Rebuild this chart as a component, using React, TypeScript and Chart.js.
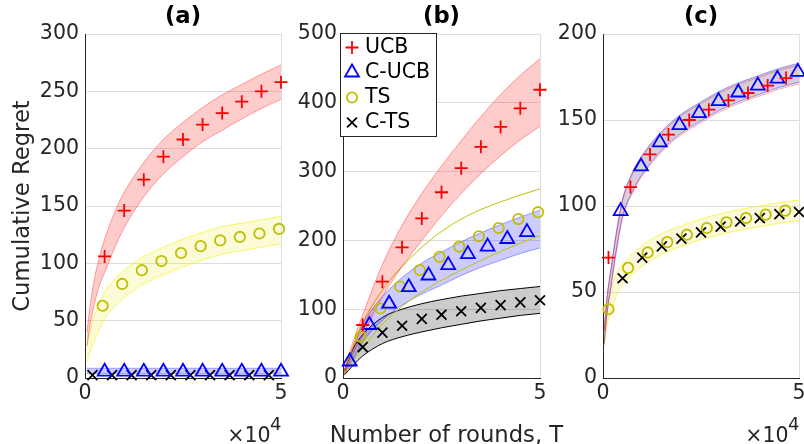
import React, { useEffect, useRef } from 'react';
import { Chart, registerables } from 'chart.js';

Chart.register(...registerables);

// ---------------- text ----------------
const PANEL_TITLES = ['(a)', '(b)', '(c)'];
const SERIES_NAMES = ['UCB', 'C-UCB', 'TS', 'C-TS'];
const X_TICK_LABELS = ['0', '5'];
const Y_LABEL = 'Cumulative Regret';
const X_LABEL = 'Number of rounds, T';
const EXP_BASE = '×10';
const EXP_POWER = '4';

// ---------------- panel (a) ----------------
const A_UCB_X = [5000, 10000, 15000, 20000, 25000, 30000, 35000, 40000, 45000, 50000];
const A_UCB_Y = [106, 146, 173, 193, 208, 221, 231, 241, 250, 258];
const A_CUCB_X = [5000, 10000, 15000, 20000, 25000, 30000, 35000, 40000, 45000, 50000];
const A_CUCB_Y = [5.5, 5.5, 5.5, 5.5, 5.5, 5.5, 5.5, 5.5, 5.5, 5.5];
const A_TS_X = [4500, 9500, 14500, 19500, 24500, 29500, 34500, 39500, 44500, 49500];
const A_TS_Y = [63, 82, 94, 102, 109, 115, 120, 123, 126, 130];
const A_CTS_X = [1900, 6900, 11900, 16900, 21900, 26900, 31900, 36900, 41900, 46900];
const A_CTS_Y = [2.5, 2.5, 2.5, 2.5, 2.5, 2.5, 2.5, 2.5, 2.5, 2.5];

const A_BAND_X = [500, 1500, 2500, 3500, 5000, 7500, 10000, 15000, 20000, 25000, 30000, 35000, 40000, 45000, 50000];
const A_UCB_HI = [40, 68, 88, 103, 121, 144, 162, 188, 208, 223, 236, 247, 256, 265, 273];
const A_UCB_LO = [28, 50, 66, 79, 92, 113, 131, 158, 178, 193, 206, 216, 226, 235, 243];
const A_TS_HI = [28, 44, 55, 64, 75, 86, 94, 106, 114, 121, 127, 132, 135, 138, 141];
const A_TS_LO = [14, 25, 33, 41, 52, 62, 70, 82, 90, 97, 103, 108, 111, 114, 117];
const A_CUCB_HI = [8.5, 8.5, 8.5, 8.5, 8.5, 8.5, 8.5, 8.5, 8.5, 8.5, 8.5, 8.5, 8.5, 8.5, 8.5];
const A_CUCB_LO = [4, 4, 4, 4, 4, 4, 4, 4, 4, 4, 4, 4, 4, 4, 4];

// ---------------- panel (b) ----------------
const B_UCB_X = [5000, 10000, 15000, 20000, 25000, 30000, 35000, 40000, 45000, 50000];
const B_UCB_Y = [77, 140, 190, 232, 270, 305, 336, 365, 392, 419];
const B_CUCB_X = [1700, 6700, 11700, 16700, 21700, 26700, 31700, 36700, 41700, 46700];
const B_CUCB_Y = [24, 77, 108, 132, 149, 164, 180, 191, 202, 212];
const B_TS_X = [4500, 9500, 14500, 19500, 24500, 29500, 34500, 39500, 44500, 49500];
const B_TS_Y = [60, 101, 133, 157, 176, 191, 206, 218, 231, 241];
const B_CTS_X = [5000, 10000, 15000, 20000, 25000, 30000, 35000, 40000, 45000, 50000];
const B_CTS_Y = [45, 66, 76, 86, 92, 97, 102, 106, 110, 113];

const B_BAND_X = [300, 2500, 5000, 10000, 15000, 20000, 25000, 30000, 35000, 40000, 45000, 50000];
const B_UCB_HI = [10, 52, 92, 165, 222, 268, 308, 345, 380, 412, 440, 464];
const B_UCB_LO = [6, 35, 62, 118, 162, 200, 236, 268, 297, 323, 346, 366];
const B_TS_HI = [10, 45, 80, 128, 162, 190, 213, 231, 245, 256, 266, 275];
const B_TS_LO = [5, 25, 44, 78, 104, 125, 142, 157, 171, 184, 196, 207];
const B_CUCB_HI = [10, 42, 78, 118, 146, 167, 183, 198, 211, 223, 234, 244];
const B_CUCB_LO = [5, 26, 52, 84, 106, 122, 135, 149, 161, 171, 181, 189];
const B_CTS_HI = [10, 42, 63, 88, 100, 108, 114, 119, 123, 127, 130, 133];
const B_CTS_LO = [4, 18, 32, 50, 60, 67, 73, 78, 83, 87, 91, 94];

// ---------------- panel (c) ----------------
const C_UCB_X = [1400, 7000, 12000, 16700, 22000, 27000, 32000, 37000, 42000, 46700];
const C_UCB_Y = [70, 111, 130, 141.5, 150, 156, 161.4, 165.7, 170, 174.4];
const C_CUCB_X = [4500, 9700, 14500, 19500, 24500, 29500, 34500, 39500, 44500, 49700];
const C_CUCB_Y = [97, 123, 137, 147, 154, 161, 166, 170, 174, 178];
const C_TS_X = [1400, 6400, 11400, 16400, 21400, 26500, 31500, 36500, 41500, 46500];
const C_TS_Y = [40, 64, 73, 79, 83.3, 87.2, 90.5, 93, 95, 97.3];
const C_CTS_X = [5000, 10000, 15000, 20000, 25000, 30000, 35000, 40000, 45000, 50000];
const C_CTS_Y = [58, 70, 76.5, 81, 84.7, 88, 91, 93, 95.3, 96.5];

const C_BAND_X = [300, 1000, 2000, 3500, 5000, 7500, 10000, 15000, 20000, 25000, 30000, 35000, 40000, 45000, 50000];
const C_CUCB_HI = [28, 46.5, 63, 86, 104, 119.5, 129.5, 143.5, 153.5, 160.5, 167, 172, 176, 180, 183];
const C_CUCB_LO = [20, 37.5, 53, 76, 94, 108.5, 118.5, 132.5, 142.5, 149.5, 156, 161, 165, 169, 172];
const C_UCB_HI = [27, 45.5, 62, 85, 103, 118.5, 128.5, 142.5, 152.5, 159.5, 166, 171, 175, 179, 182];
const C_UCB_LO = [19, 36.5, 52, 75, 93, 107.5, 117.5, 131.5, 141.5, 148.5, 155, 160, 164, 168, 171];
const C_TS_HI = [30, 42, 51, 61, 66, 72, 77, 84, 88.5, 92.5, 95.5, 98, 100, 102, 103.5];
const C_TS_LO = [19, 30, 38, 48, 54, 60, 65, 72, 76.5, 80.5, 83.5, 86, 88, 90, 91.5];

// ---------------- style ----------------
const CW = 810;
const CH = 444;
const VIEW_W = 804;
const VIEW_H = 444;
const FONT = '"DejaVu Sans", sans-serif';
const TEXT = '#262626';
const GRID = '#dedede';
const AXIS = '#262626';
const RED = '#ff0000';
const BLUE = '#0000ff';
const OLIVE = '#bfbf00';
const BLACK = '#000000';
const MARKER_LW = 1.8;

type Style = 'cross' | 'triangle' | 'circle' | 'crossRot';
const STYLE: Record<string, { style: Style; color: string; r: number }> = {
  UCB: { style: 'cross', color: RED, r: 6.5 },
  'C-UCB': { style: 'triangle', color: BLUE, r: 8 },
  TS: { style: 'circle', color: OLIVE, r: 5.2 },
  'C-TS': { style: 'crossRot', color: BLACK, r: 7 },
};

type Band = { x: number[]; hi: number[]; lo: number[]; fill: string | null; border: string };
type Series = { name: string; x: number[]; y: number[] };

function pts(x: number[], y: number[]) {
  return x.map((v, i) => ({ x: v, y: y[i] }));
}

function drawMarker(ctx: CanvasRenderingContext2D, style: Style, x: number, y: number, r: number, color: string) {
  ctx.save();
  ctx.strokeStyle = color;
  ctx.lineWidth = MARKER_LW;
  ctx.beginPath();
  if (style === 'cross') {
    ctx.moveTo(x - r, y); ctx.lineTo(x + r, y);
    ctx.moveTo(x, y - r); ctx.lineTo(x, y + r);
  } else if (style === 'crossRot') {
    const d = r * Math.SQRT1_2;
    ctx.moveTo(x - d, y - d); ctx.lineTo(x + d, y + d);
    ctx.moveTo(x + d, y - d); ctx.lineTo(x - d, y + d);
  } else if (style === 'triangle') {
    for (let k = 0; k < 3; k++) {
      const a = (k * 2 * Math.PI) / 3;
      const px = x + Math.sin(a) * r;
      const py = y - Math.cos(a) * r;
      if (k === 0) ctx.moveTo(px, py); else ctx.lineTo(px, py);
    }
    ctx.closePath();
  } else {
    ctx.arc(x, y, r, 0, Math.PI * 2);
  }
  ctx.stroke();
  ctx.restore();
}

const exponentPlugin = {
  id: 'exponentLabel',
  afterDraw(chart: any) {
    const { ctx, chartArea } = chart;
    ctx.save();
    ctx.fillStyle = TEXT;
    ctx.textAlign = 'right';
    ctx.textBaseline = 'alphabetic';
    ctx.font = `18px ${FONT}`;
    ctx.fillText(EXP_POWER, chartArea.right + 0.5, 430);
    ctx.font = `20.5px ${FONT}`;
    ctx.fillText(EXP_BASE, chartArea.right - 10.5, 442);
    ctx.restore();
  },
};

// x-axis label drawn without the scale's width limit, so it can run past the plot like the original
const xLabelPlugin = {
  id: 'wideXLabel',
  afterDraw(chart: any) {
    const { ctx, chartArea } = chart;
    ctx.save();
    ctx.fillStyle = TEXT;
    ctx.textAlign = 'center';
    ctx.textBaseline = 'alphabetic';
    ctx.font = `22.7px ${FONT}`;
    ctx.fillText(X_LABEL, (chartArea.left + chartArea.right) / 2 + 5, 441.5);
    ctx.restore();
  },
};

const legendPlugin = {
  id: 'boxLegend',
  afterDatasetsDraw(chart: any) {
    const { ctx, chartArea } = chart;
    const left = Math.round(chartArea.left) - 3;
    const top = Math.round(chartArea.top) - 1;
    const w = 96;
    const h = 103;
    ctx.save();
    ctx.fillStyle = '#ffffff';
    ctx.fillRect(left, top, w, h);
    ctx.strokeStyle = AXIS;
    ctx.lineWidth = 1;
    ctx.strokeRect(left + 0.5, top + 0.5, w, h);
    SERIES_NAMES.forEach((name, i) => {
      const s = STYLE[name];
      const cy = top + 14.5 + 25 * i;
      drawMarker(ctx, s.style, left + 12, cy, s.r, s.color);
      ctx.fillStyle = '#000000';
      ctx.font = `20.5px ${FONT}`;
      ctx.textAlign = 'left';
      ctx.textBaseline = 'middle';
      ctx.fillText(name, left + 25, cy);
    });
    ctx.restore();
  },
};

type PanelSpec = {
  title: string;
  yMax: number;
  yStep: number;
  chartLeft: number;
  chartRight: number;
  axisW: number;
  yTitle?: string;
  xTitle?: boolean;
  exponent?: boolean;
  legend?: boolean;
  bands: Band[];
  series: Series[];
};

function buildConfig(p: PanelSpec): any {
  const datasets: any[] = [];
  p.series.forEach((s) => {
    const st = STYLE[s.name];
    datasets.push({
      label: s.name,
      data: pts(s.x, s.y),
      showLine: false,
      pointStyle: st.style,
      pointRadius: st.r,
      pointHoverRadius: st.r,
      pointBorderWidth: MARKER_LW,
      pointBorderColor: st.color,
      pointBackgroundColor: 'rgba(0,0,0,0)',
      borderColor: st.color,
      backgroundColor: 'rgba(0,0,0,0)',
      fill: false,
      clip: false,
      order: 0,
    });
  });
  p.bands.forEach((b) => {
    datasets.push({
      data: pts(b.x, b.hi),
      borderColor: b.border,
      borderWidth: 1,
      pointRadius: 0,
      fill: false,
      cubicInterpolationMode: 'monotone',
      order: 10,
    });
    datasets.push({
      data: pts(b.x, b.lo),
      borderColor: b.border,
      borderWidth: 1,
      pointRadius: 0,
      backgroundColor: b.fill || 'rgba(0,0,0,0)',
      fill: b.fill ? '-1' : false,
      cubicInterpolationMode: 'monotone',
      order: 10,
    });
  });

  const tickFont = { family: FONT, size: 20.5, lineHeight: 1.2 };
  const plugins: any[] = [];
  if (p.exponent) plugins.push(exponentPlugin);
  if (p.legend) plugins.push(legendPlugin);
  if (p.xTitle) plugins.push(xLabelPlugin);

  return {
    type: 'line',
    data: { datasets },
    plugins,
    options: {
      animation: false,
      responsive: false,
      devicePixelRatio: 1,
      events: [],
      layout: { padding: { left: p.chartLeft - p.axisW, right: CW - p.chartRight, top: 0, bottom: 0 } },
      plugins: {
        legend: { display: false },
        tooltip: { enabled: false },
        title: {
          display: true,
          text: p.title,
          fullSize: false,
          color: '#000000',
          font: { family: FONT, size: 22.7, weight: 'bold', lineHeight: 1 },
          padding: { top: 6, bottom: 5.3 },
        },
      },
      scales: {
        x: {
          type: 'linear',
          min: 0,
          max: 50000,
          afterFit: (s: any) => { s.height = 66; },
          border: { display: true, color: AXIS, width: 1 },
          grid: { color: GRID, lineWidth: 1, drawTicks: false },
          ticks: {
            stepSize: 50000,
            autoSkip: false,
            maxRotation: 0,
            padding: 3.5,
            color: TEXT,
            font: tickFont,
            callback: (_v: any, i: number) => X_TICK_LABELS[i],
          },
        },
        y: {
          min: 0,
          max: p.yMax,
          afterFit: (s: any) => { s.width = p.axisW; },
          border: { display: true, color: AXIS, width: 1 },
          grid: { color: GRID, lineWidth: 1, drawTicks: false },
          ticks: { stepSize: p.yStep, padding: 6, color: TEXT, font: tickFont },
          title: {
            display: !!p.yTitle,
            text: p.yTitle || '',
            color: TEXT,
            font: { family: FONT, size: 22.7, lineHeight: 1 },
            padding: { top: 12, bottom: 0 },
          },
        },
      },
    },
  };
}

const PANELS: PanelSpec[] = [
  {
    title: PANEL_TITLES[0], yMax: 300, yStep: 50, chartLeft: 85, chartRight: 281, axisW: 85,
    yTitle: Y_LABEL, exponent: true,
    bands: [
      { x: A_BAND_X, hi: A_UCB_HI, lo: A_UCB_LO, fill: 'rgba(255,0,0,0.2)', border: 'rgba(255,0,0,0.35)' },
      { x: A_BAND_X, hi: A_TS_HI, lo: A_TS_LO, fill: 'rgba(235,235,60,0.2)', border: 'rgba(245,245,0,0.6)' },
      { x: A_BAND_X, hi: A_CUCB_HI, lo: A_CUCB_LO, fill: 'rgba(0,0,255,0.2)', border: 'rgba(0,0,255,0.3)' },
    ],
    series: [
      { name: 'UCB', x: A_UCB_X, y: A_UCB_Y },
      { name: 'C-UCB', x: A_CUCB_X, y: A_CUCB_Y },
      { name: 'TS', x: A_TS_X, y: A_TS_Y },
      { name: 'C-TS', x: A_CTS_X, y: A_CTS_Y },
    ],
  },
  {
    title: PANEL_TITLES[1], yMax: 500, yStep: 100, chartLeft: 343, chartRight: 540, axisW: 53,
    xTitle: true, legend: true,
    bands: [
      { x: B_BAND_X, hi: B_UCB_HI, lo: B_UCB_LO, fill: 'rgba(255,0,0,0.2)', border: 'rgba(255,0,0,0.35)' },
      { x: B_BAND_X, hi: B_TS_HI, lo: B_TS_LO, fill: null, border: OLIVE },
      { x: B_BAND_X, hi: B_CUCB_HI, lo: B_CUCB_LO, fill: 'rgba(0,0,255,0.2)', border: 'rgba(0,0,255,0.35)' },
      { x: B_BAND_X, hi: B_CTS_HI, lo: B_CTS_LO, fill: 'rgba(0,0,0,0.2)', border: BLACK },
    ],
    series: [
      { name: 'UCB', x: B_UCB_X, y: B_UCB_Y },
      { name: 'C-UCB', x: B_CUCB_X, y: B_CUCB_Y },
      { name: 'TS', x: B_TS_X, y: B_TS_Y },
      { name: 'C-TS', x: B_CTS_X, y: B_CTS_Y },
    ],
  },
  {
    title: PANEL_TITLES[2], yMax: 200, yStep: 50, chartLeft: 603, chartRight: 799, axisW: 53,
    exponent: true,
    bands: [
      { x: C_BAND_X, hi: C_UCB_HI, lo: C_UCB_LO, fill: 'rgba(255,0,0,0.03)', border: 'rgba(255,0,0,0.35)' },
      { x: C_BAND_X, hi: C_CUCB_HI, lo: C_CUCB_LO, fill: 'rgba(120,120,165,0.3)', border: 'rgba(0,0,255,0.4)' },
      { x: C_BAND_X, hi: C_TS_HI, lo: C_TS_LO, fill: 'rgba(240,225,90,0.22)', border: 'rgba(245,245,0,0.6)' },
    ],
    series: [
      { name: 'UCB', x: C_UCB_X, y: C_UCB_Y },
      { name: 'C-UCB', x: C_CUCB_X, y: C_CUCB_Y },
      { name: 'TS', x: C_TS_X, y: C_TS_Y },
      { name: 'C-TS', x: C_CTS_X, y: C_CTS_Y },
    ],
  },
];

function Panel({ spec }: { spec: PanelSpec }) {
  const ref = useRef<HTMLCanvasElement>(null);
  useEffect(() => {
    if (!ref.current) return;
    const chart = new Chart(ref.current, buildConfig(spec));
    return () => chart.destroy();
  }, [spec]);
  return (
    <canvas
      ref={ref}
      width={CW}
      height={CH}
      style={{ position: 'absolute', left: 0, top: 0, width: CW, height: CH }}
    />
  );
}

export default function App() {
  return (
    <div
      style={{
        position: 'absolute', left: 0, top: 0, width: VIEW_W, height: VIEW_H,
        overflow: 'hidden', background: '#ffffff',
      }}
    >
      {PANELS.map((p) => (
        <Panel key={p.title} spec={p} />
      ))}
    </div>
  );
}
